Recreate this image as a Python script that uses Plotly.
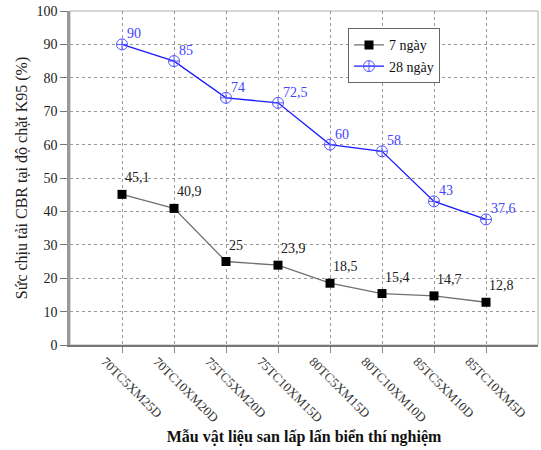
import plotly.graph_objects as go

# Sample codes (x categories)
samples = ["70TC5XM25D", "70TC10XM20D", "75TC5XM20D", "75TC10XM15D",
           "80TC5XM15D", "80TC10XM10D", "85TC5XM10D", "85TC10XM5D"]

# CBR at K95 (%)
cbr_7d = [45.1, 40.9, 25, 23.9, 18.5, 15.4, 14.7, 12.8]
cbr_28d = [90, 85, 74, 72.5, 60, 58, 43, 37.6]

y_ticks = [0, 10, 20, 30, 40, 50, 60, 70, 80, 90, 100]


def fmt(v):
    s = f"{v:g}"
    return s.replace(".", ",")


serif = "Liberation Serif, Times New Roman, serif"
idx = list(range(len(samples)))

fig = go.Figure()

fig.add_trace(go.Scatter(
    x=idx, y=cbr_7d, name="7 ngày",
    mode="lines+markers",
    line=dict(color="#707070", width=1.3),
    marker=dict(symbol="square", size=9, color="black"),
    cliponaxis=False,
))

fig.add_trace(go.Scatter(
    x=idx, y=cbr_28d, name="28 ngày",
    mode="lines+markers",
    line=dict(color="#1a1aff", width=1.3),
    marker=dict(symbol="circle-cross-open", size=11, color="#5555ff",
                line=dict(width=1)),
    cliponaxis=False,
))

# Value labels, placed just above-right of each marker
for i, v in zip(idx, cbr_7d):
    fig.add_annotation(x=i, y=v, text=fmt(v), showarrow=False,
                       xanchor="left", yanchor="bottom", xshift=1, yshift=7,
                       font=dict(family=serif, size=14, color="#222222"))
for i, v in zip(idx, cbr_28d):
    fig.add_annotation(x=i, y=v, text=fmt(v), showarrow=False,
                       xanchor="left", yanchor="bottom", xshift=3, yshift=1,
                       font=dict(family=serif, size=14, color="#4444ff"))

# Light frame around the plotting area
fig.add_shape(type="rect", xref="paper", yref="paper", x0=0, y0=0, x1=1, y1=1,
              line=dict(color="#b0b0b0", width=1), layer="below")

fig.update_layout(
    width=541, height=450,
    margin=dict(l=70, r=3, t=11, b=105),
    paper_bgcolor="white", plot_bgcolor="white",
    font=dict(family=serif, size=13, color="#222222"),
    showlegend=True,
    legend=dict(
        x=0.594, y=0.948, xanchor="left", yanchor="top",
        bgcolor="white", bordercolor="#666666", borderwidth=1,
        font=dict(family=serif, size=14, color="#111111"),
        tracegroupgap=0, itemwidth=30,
    ),
)

fig.update_xaxes(
    range=[-1, 8],
    tickmode="array", tickvals=idx, ticktext=samples,
    tickangle=45, ticklabelshift=-17, ticklabelstandoff=-4,
    tickfont=dict(family=serif, size=13, color="#333333"),
    ticks="outside", ticklen=6, tickcolor="#888888",
    showline=True, linecolor="#777777", linewidth=1.5,
    showgrid=True, gridcolor="#999999", griddash="dot", gridwidth=1,
    zeroline=False,
    title=dict(text="<b>Mẫu vật liệu san lấp lấn biển thí nghiệm</b>",
               font=dict(family=serif, size=16, color="#111111"), standoff=6),
)

fig.update_yaxes(
    range=[0, 100],
    tickmode="array", tickvals=y_ticks,
    tickfont=dict(family=serif, size=14, color="#222222"),
    ticks="outside", ticklen=7, tickcolor="#777777",
    showline=True, linecolor="#999999", linewidth=2.5,
    showgrid=True, gridcolor="#999999", griddash="dot", gridwidth=1,
    zeroline=False,
    title=dict(text="Sức chịu tải CBR tại độ chặt K95 (%)",
               font=dict(family=serif, size=16, color="#222222"), standoff=5),
)

fig.write_html("out.html")
